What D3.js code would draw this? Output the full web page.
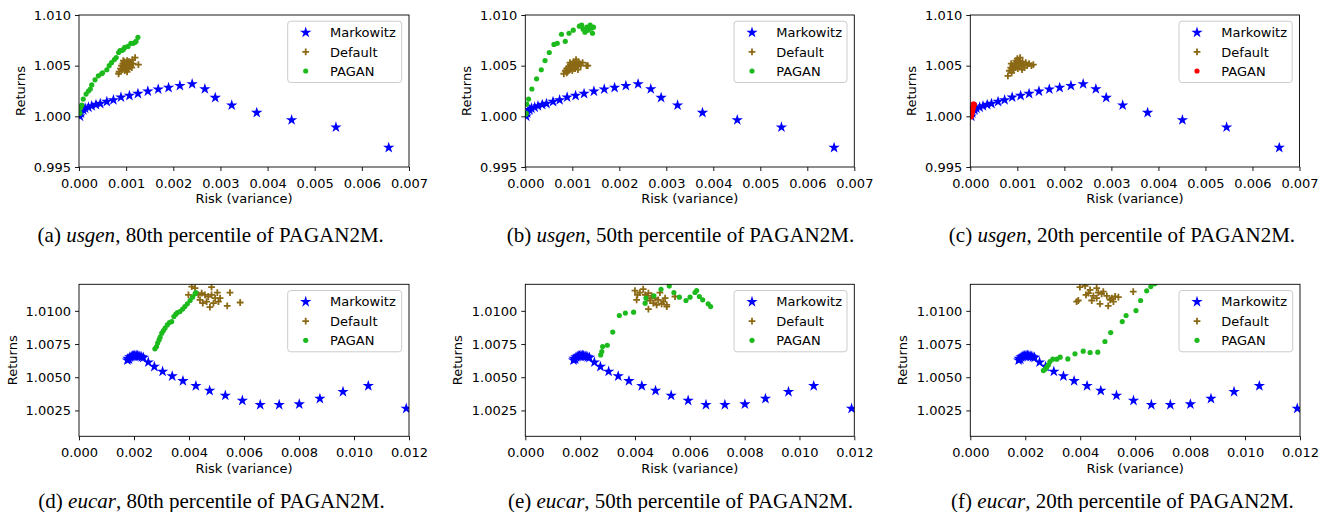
<!DOCTYPE html>
<html><head><meta charset="utf-8">
<script src="https://cdn.jsdelivr.net/npm/d3@7"></script>
<style>body{margin:0;background:#fff}svg{display:block}</style>
</head><body>
<svg id="c" width="1320" height="512"></svg>
<script>
// ---------- DATA ----------
const seriesNames = ["Markowitz", "Default", "PAGAN"];
const usgenXTicks = [0, 0.001, 0.002, 0.003, 0.004, 0.005, 0.006, 0.007];
const usgenYTicks = [0.995, 1.000, 1.005, 1.010];
const eucarXTicks = [0, 0.002, 0.004, 0.006, 0.008, 0.010, 0.012];
const eucarYTicks = [1.0025, 1.0050, 1.0075, 1.0100];

const markowitzUsgen = [[0.00002,1.0000],[0.00004,1.0003],[0.00009,1.00063],[0.00013,1.00079],[0.00020,1.00089],[0.00027,1.00102],[0.00036,1.00115],[0.00045,1.00125],[0.00059,1.00145],[0.00073,1.00161],[0.00089,1.00188],[0.00107,1.00204],[0.00125,1.00224],[0.00146,1.00247],[0.00168,1.00267],[0.00190,1.00283],[0.00214,1.00302],[0.00240,1.00319],[0.00267,1.0027],[0.00289,1.00184],[0.00324,1.00109],[0.00377,1.00036],[0.00451,0.99964],[0.00545,0.99892],[0.00657,0.99691]];

const defaultUsgen80 = [[0.00085,1.0044],[0.00088,1.0047],[0.00090,1.0050],[0.00092,1.0046],[0.00093,1.0052],[0.00095,1.0049],[0.00096,1.0054],[0.00097,1.0045],[0.00098,1.0051],[0.00099,1.0048],[0.00100,1.0053],[0.00100,1.0046],[0.00101,1.0050],[0.00102,1.0055],[0.00103,1.0048],[0.00104,1.0052],[0.00105,1.0047],[0.00106,1.0054],[0.00107,1.0050],[0.00108,1.0049],[0.00109,1.0053],[0.00110,1.0051],[0.00112,1.0048],[0.00113,1.0056],[0.00115,1.0052],[0.00119,1.0058],[0.00126,1.0051],[0.00084,1.0042],[0.00094,1.0055],[0.00102,1.0044]];
const paganUsgen80 = [[0.00002,1.0003],[0.00003,1.0008],[0.00004,1.0010],[0.00006,1.0011],[0.00009,1.0017],[0.00015,1.0022],[0.00020,1.0025],[0.00024,1.0027],[0.00027,1.0031],[0.00034,1.0036],[0.00041,1.0040],[0.00048,1.0042],[0.00050,1.0043],[0.00059,1.0046],[0.00064,1.0050],[0.00069,1.0053],[0.00075,1.0056],[0.00079,1.0058],[0.00084,1.0063],[0.00087,1.0065],[0.00091,1.0065],[0.00094,1.0066],[0.00097,1.0068],[0.00104,1.0069],[0.00110,1.0072],[0.00115,1.0072],[0.00119,1.0073],[0.00121,1.0074],[0.00125,1.0078]];

const defaultUsgen50 = [[0.00082,1.0042],[0.00085,1.0045],[0.00088,1.0047],[0.00090,1.0044],[0.00092,1.0049],[0.00094,1.0046],[0.00096,1.0051],[0.00097,1.0048],[0.00099,1.0050],[0.00100,1.0045],[0.00101,1.0052],[0.00102,1.0048],[0.00103,1.0054],[0.00104,1.0050],[0.00106,1.0047],[0.00107,1.0053],[0.00108,1.0056],[0.00110,1.0051],[0.00111,1.0049],[0.00113,1.0054],[0.00115,1.0052],[0.00118,1.0050],[0.00122,1.0053],[0.00130,1.0050],[0.00133,1.0050],[0.00095,1.0053],[0.00088,1.0043],[0.00112,1.0046]];
const paganUsgen50 = [[0.00001,1.0002],[0.00002,1.0003],[0.00003,1.0012],[0.00007,1.0017],[0.00014,1.0027],[0.00024,1.0037],[0.00034,1.0046],[0.00042,1.0055],[0.00051,1.0063],[0.00061,1.0071],[0.00068,1.0072],[0.00077,1.0081],[0.00085,1.0074],[0.00093,1.0082],[0.00102,1.0085],[0.00115,1.0089],[0.00120,1.0090],[0.00123,1.0086],[0.00127,1.0083],[0.00131,1.0088],[0.00134,1.0085],[0.00138,1.0090],[0.00141,1.0087],[0.00143,1.0082],[0.00145,1.0088]];

const defaultUsgen20 = [[0.00080,1.0040],[0.00083,1.0045],[0.00086,1.0048],[0.00088,1.0043],[0.00090,1.0050],[0.00092,1.0046],[0.00094,1.0052],[0.00095,1.0048],[0.00097,1.0055],[0.00098,1.0050],[0.00100,1.0057],[0.00101,1.0047],[0.00102,1.0053],[0.00104,1.0050],[0.00105,1.0055],[0.00106,1.0058],[0.00108,1.0052],[0.00109,1.0049],[0.00111,1.0054],[0.00113,1.0051],[0.00115,1.0048],[0.00118,1.0053],[0.00121,1.0050],[0.00125,1.0052],[0.00130,1.0050],[0.00134,1.0051],[0.00087,1.0052],[0.00110,1.0046]];
const paganUsgen20 = [[0.00002,0.99995],[0.00002,1.0001],[0.00003,1.0002],[0.00003,1.0003],[0.00004,1.0004],[0.00004,1.0005],[0.00005,1.0006],[0.00005,1.0007],[0.00006,1.0008],[0.00006,1.0009],[0.00007,1.0010],[0.00008,1.0011],[0.00008,1.0012],[0.00004,1.0009],[0.00006,1.0012],[0.00003,1.0006]];

const markowitzEucar = [[0.00176,1.00628],[0.00178,1.00640],[0.00182,1.00636],[0.00185,1.00651],[0.00190,1.00655],[0.00195,1.00660],[0.00198,1.00661],[0.00203,1.00664],[0.00208,1.00663],[0.00213,1.00662],[0.00218,1.00659],[0.00222,1.00656],[0.00228,1.00652],[0.00234,1.00648],[0.00252,1.00613],[0.00274,1.00580],[0.00304,1.00543],[0.00339,1.00508],[0.00378,1.00472],[0.00425,1.00435],[0.00475,1.00399],[0.00532,1.00362],[0.00594,1.00324],[0.00659,1.00292],[0.00728,1.00292],[0.00801,1.00297],[0.00876,1.00339],[0.00960,1.00390],[0.01052,1.00435],[0.01190,1.00264]];

const defaultEucar80 = [[0.00410,1.01183],[0.00422,1.01171],[0.00398,1.01121],[0.00434,1.01121],[0.00446,1.01133],[0.00458,1.01121],[0.00470,1.01108],[0.00482,1.01178],[0.00482,1.01121],[0.00495,1.01096],[0.00503,1.01138],[0.00507,1.01070],[0.00513,1.01096],[0.00450,1.01058],[0.00476,1.01028],[0.00539,1.01038],[0.00549,1.01138],[0.00586,1.01063],[0.00440,1.01083],[0.00464,1.01070],[0.00489,1.01058]];
const paganEucar80 = [[0.00276,1.00714],[0.00282,1.00731],[0.00286,1.00757],[0.00291,1.00781],[0.00295,1.00802],[0.00301,1.00832],[0.00307,1.00852],[0.00313,1.00870],[0.00321,1.00894],[0.00329,1.00912],[0.00337,1.00919],[0.00345,1.00957],[0.00352,1.00975],[0.00358,1.00987],[0.00367,1.00995],[0.00377,1.01013],[0.00385,1.01032],[0.00394,1.01053],[0.00404,1.01078],[0.00413,1.01103],[0.00422,1.01128],[0.00425,1.01138]];

const defaultEucar50 = [[0.00400,1.01153],[0.00409,1.01121],[0.00418,1.01138],[0.00430,1.01163],[0.00437,1.01121],[0.00445,1.01096],[0.00449,1.01133],[0.00455,1.01078],[0.00461,1.01113],[0.00467,1.01058],[0.00473,1.01096],[0.00479,1.01045],[0.00485,1.01083],[0.00491,1.01138],[0.00497,1.01053],[0.00503,1.01070],[0.00510,1.01096],[0.00516,1.01045],[0.00406,1.01083],[0.00449,1.01013],[0.00546,1.01108],[0.00516,1.01032]];
const paganEucar50 = [[0.00275,1.00668],[0.00279,1.00693],[0.00282,1.00731],[0.00299,1.00741],[0.00319,1.00840],[0.00343,1.00965],[0.00365,1.00983],[0.00395,1.00990],[0.00437,1.01058],[0.00440,1.01096],[0.00469,1.01113],[0.00495,1.01163],[0.00525,1.01188],[0.00542,1.01138],[0.00562,1.01103],[0.00586,1.01078],[0.00601,1.01103],[0.00619,1.01138],[0.00625,1.01153],[0.00635,1.01108],[0.00647,1.01083],[0.00667,1.01053],[0.00676,1.01032]];

const defaultEucar20 = [[0.00393,1.01078],[0.00399,1.01178],[0.00418,1.01188],[0.00421,1.01121],[0.00430,1.01133],[0.00436,1.01158],[0.00442,1.01078],[0.00448,1.01113],[0.00460,1.01171],[0.00466,1.01138],[0.00472,1.01053],[0.00478,1.01128],[0.00497,1.01113],[0.00502,1.01038],[0.00509,1.01083],[0.00515,1.01096],[0.00521,1.01070],[0.00527,1.01108],[0.00539,1.01103],[0.00593,1.01145],[0.00460,1.01096],[0.00484,1.01145],[0.00387,1.01070]];
const paganEucar20 = [[0.00266,1.00550],[0.00272,1.00560],[0.00278,1.00576],[0.00284,1.00593],[0.00290,1.00618],[0.00300,1.00636],[0.00315,1.00636],[0.00327,1.00651],[0.00355,1.00638],[0.00381,1.00676],[0.00411,1.00696],[0.00436,1.00686],[0.00464,1.00689],[0.00490,1.00769],[0.00511,1.00836],[0.00553,1.00919],[0.00567,1.00965],[0.00603,1.01002],[0.00620,1.01078],[0.00642,1.01151],[0.00657,1.01183],[0.00672,1.01203]];

const captions = [
  ["(a) ", "usgen", ", 80th percentile of PAGAN2M."],
  ["(b) ", "usgen", ", 50th percentile of PAGAN2M."],
  ["(c) ", "usgen", ", 20th percentile of PAGAN2M."],
  ["(d) ", "eucar", ", 80th percentile of PAGAN2M."],
  ["(e) ", "eucar", ", 50th percentile of PAGAN2M."],
  ["(f) ", "eucar", ", 20th percentile of PAGAN2M."]
];

// ---------- LAYOUT ----------
const colors = {mk:"#0000ff", def:"#8b6914", pag:"#1cba1c", red:"#ff0000"};
const plusSym = {draw(ctx, size){const r=Math.sqrt(size)/2; ctx.moveTo(-r,0);ctx.lineTo(r,0);ctx.moveTo(0,-r);ctx.lineTo(0,r);}};

const panels = [
 {L:79,R:409,T:15,B:167, xd:[0,0.007], yd:[0.995,1.010], xt:usgenXTicks, yt:usgenYTicks, xf:".3f", yf:".3f", mk:markowitzUsgen, def:defaultUsgen80, pag:paganUsgen80, pc:colors.pag, cap:captions[0], cx:210.7, ylx:20.7},
 {L:525.3,R:854.3,T:15,B:167, xd:[0,0.007], yd:[0.995,1.010], xt:usgenXTicks, yt:usgenYTicks, xf:".3f", yf:".3f", mk:markowitzUsgen, def:defaultUsgen50, pag:paganUsgen50, pc:colors.pag, cap:captions[1], cx:680.5, ylx:466.7},
 {L:970.3,R:1299.5,T:15,B:167, xd:[0,0.007], yd:[0.995,1.010], xt:usgenXTicks, yt:usgenYTicks, xf:".3f", yf:".3f", mk:markowitzUsgen, def:defaultUsgen20, pag:paganUsgen20, pc:colors.red, cap:captions[2], cx:1122, ylx:911.7},
 {L:79,R:409,T:284.3,B:436.3, xd:[0,0.012], yd:[1.00055,1.0120], xt:eucarXTicks, yt:eucarYTicks, xf:".3f", yf:".4f", mk:markowitzEucar, def:defaultEucar80, pag:paganEucar80, pc:colors.pag, cap:captions[3], cx:211.5, ylx:12},
 {L:525.3,R:854.3,T:284.3,B:436.3, xd:[0,0.012], yd:[1.00055,1.0120], xt:eucarXTicks, yt:eucarYTicks, xf:".3f", yf:".4f", mk:markowitzEucar, def:defaultEucar50, pag:paganEucar50, pc:colors.pag, cap:captions[4], cx:680.5, ylx:457.3},
 {L:970.3,R:1300,T:284.3,B:436.3, xd:[0,0.012], yd:[1.00055,1.0120], xt:eucarXTicks, yt:eucarYTicks, xf:".3f", yf:".4f", mk:markowitzEucar, def:defaultEucar20, pag:paganEucar20, pc:colors.pag, cap:captions[5], cx:1122.5, ylx:902.7}
];

const svg = d3.select("#c");
const font = "'DejaVu Sans', sans-serif";
const starPath = d3.symbol(d3.symbolStar, 40)();
const dotPath = d3.symbol(d3.symbolCircle, 21)();
const plusPath = d3.symbol(plusSym, 46)();

panels.forEach((p, i) => {
  const x = d3.scaleLinear().domain(p.xd).range([p.L, p.R]);
  const y = d3.scaleLinear().domain(p.yd).range([p.B, p.T]);
  const g = svg.append("g");
  const cid = "clip" + i;
  svg.append("clipPath").attr("id", cid).append("rect")
    .attr("x", p.L).attr("y", p.T).attr("width", p.R - p.L).attr("height", p.B - p.T);

  const xa = g.append("g").attr("transform", `translate(0,${p.B})`)
    .call(d3.axisBottom(x).tickValues(p.xt).tickFormat(d3.format(p.xf)).tickSize(4).tickPadding(7.5).tickSizeOuter(0));
  const ya = g.append("g").attr("transform", `translate(${p.L},0)`)
    .call(d3.axisLeft(y).tickValues(p.yt).tickFormat(d3.format(p.yf)).tickSize(4).tickPadding(4).tickSizeOuter(0));
  [xa, ya].forEach(a => {
    a.select(".domain").remove();
    a.selectAll("text").attr("font-family", font).attr("font-size", 13).attr("fill", "#000");
    a.selectAll("line").attr("stroke", "#000").attr("stroke-width", 0.9);
  });

  const plot = g.append("g").attr("clip-path", `url(#${cid})`);
  plot.selectAll(".mk").data(p.mk).join("path").attr("d", starPath)
    .attr("transform", d => `translate(${x(d[0])},${y(d[1])})`).attr("fill", colors.mk);
  plot.selectAll(".df").data(p.def).join("path").attr("d", plusPath)
    .attr("transform", d => `translate(${x(d[0])},${y(d[1])})`).attr("fill", "none")
    .attr("stroke", colors.def).attr("stroke-width", 1.8);
  plot.selectAll(".pg").data(p.pag).join("path").attr("d", dotPath)
    .attr("transform", d => `translate(${x(d[0])},${y(d[1])})`).attr("fill", p.pc);

  g.append("rect").attr("x", p.L).attr("y", p.T).attr("width", p.R - p.L).attr("height", p.B - p.T)
    .attr("fill", "none").attr("stroke", "#000").attr("stroke-width", 0.9);

  g.append("text").attr("x", (p.L + p.R) / 2).attr("y", p.B + 36.3).attr("text-anchor", "middle")
    .attr("font-family", font).attr("font-size", 13).text("Risk (variance)");
  g.append("text").attr("transform", `translate(${p.ylx},${(p.T + p.B) / 2}) rotate(-90)`)
    .attr("text-anchor", "middle").attr("dy", "0.35em")
    .attr("font-family", font).attr("font-size", 13).text("Returns");

  const lg = g.append("g");
  lg.append("rect").attr("x", p.L + 208.7).attr("y", p.T + 6.2).attr("width", p.R - 7.3 - (p.L + 208.7)).attr("height", 61.3)
    .attr("rx", 3).attr("fill", "#fff").attr("fill-opacity", 0.8).attr("stroke", "#cccccc").attr("stroke-width", 1);
  const rows = [17.5, 36.9, 56];
  const mx = p.L + 226.7, tx = p.L + 251;
  lg.append("path").attr("d", starPath).attr("transform", `translate(${mx},${p.T + rows[0]})`).attr("fill", colors.mk);
  lg.append("path").attr("d", plusPath).attr("transform", `translate(${mx},${p.T + rows[1]})`).attr("fill", "none").attr("stroke", colors.def).attr("stroke-width", 1.8);
  lg.append("path").attr("d", dotPath).attr("transform", `translate(${mx},${p.T + rows[2]})`).attr("fill", p.pc);
  seriesNames.forEach((n, k) => {
    lg.append("text").attr("x", tx).attr("y", p.T + rows[k]).attr("dy", "0.36em")
      .attr("font-family", font).attr("font-size", 13).text(n);
  });

  const cap = g.append("text").attr("x", p.cx).attr("y", i < 3 ? 241.5 : 508).attr("text-anchor", "middle")
    .attr("font-family", "'Liberation Serif', 'Times New Roman', serif").attr("font-size", 21);
  cap.append("tspan").text(p.cap[0]);
  cap.append("tspan").attr("font-style", "italic").text(p.cap[1]);
  cap.append("tspan").text(p.cap[2]);
});
</script>
</body></html>
